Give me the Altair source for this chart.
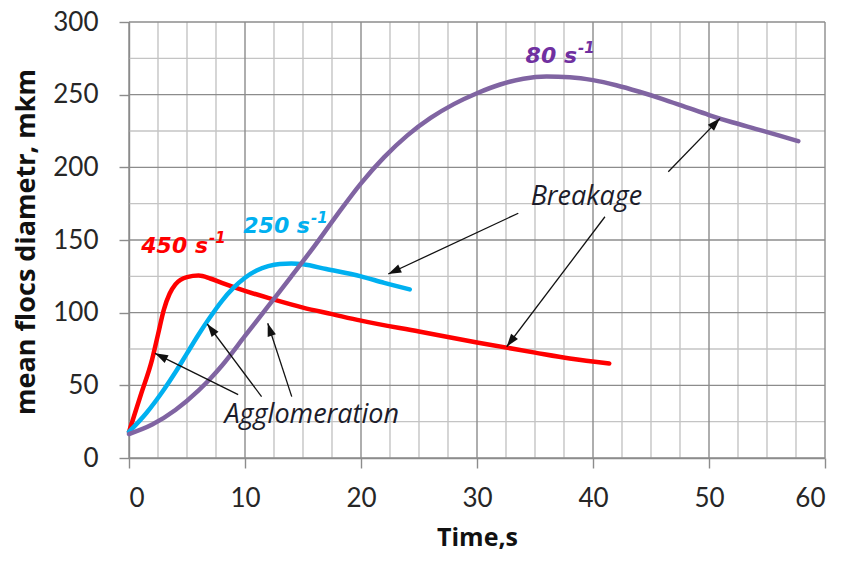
import math
import altair as alt
import pandas as pd

# ---------------- data ----------------
red_t = [0, 1, 2, 2.5, 3, 3.5, 4, 5, 6, 7, 8, 10, 12.5, 15, 17.5, 20, 25, 30, 35, 38, 41.4]
red_d = [18, 43, 68, 85, 102, 113, 119.5, 124.5, 125.5, 123.5, 120.5, 115, 109, 103.5, 99, 94.5, 87, 79.5, 72.5, 68.5, 65]

blue_t = [0, 1.5, 3, 4, 5, 6, 7, 8, 9, 10, 11, 12, 13, 14, 15, 17, 20, 22, 24.2]
blue_d = [18, 31, 47, 59, 72, 85, 97, 108, 117, 124, 129, 132, 133.5, 133.8, 133.3, 130, 125, 120.5, 116]

purple_t = [0, 2, 4, 6, 7, 8, 10, 12, 14, 16, 18, 20, 22, 24, 26, 28, 30, 32, 34, 36, 38, 40, 42, 44, 46, 48, 50, 52, 54, 56, 57.7]
purple_d = [16.5, 23, 33, 46.5, 54.5, 63.5, 84, 104.5, 125, 146, 168, 189, 207, 222, 234, 243.5, 251, 257, 261, 262.5, 262, 260, 256.5, 252, 247, 241.5, 236, 231, 226.5, 222, 218]

series_names = ["450", "250", "80"]
series_colors = ["#FF0000", "#00B0F0", "#8064A2"]

x_ticks = [0, 10, 20, 30, 40, 50, 60]
y_ticks = [0, 50, 100, 150, 200, 250, 300]
x_minor = [v * 2.5 for v in range(25) if (v * 2.5) % 10 != 0]
y_minor = [v * 25 for v in range(13) if (v * 25) % 50 != 0]

X_TITLE = "Time,s"
Y_TITLE = "mean flocs diametr, mkm"

# arrows: start (t, d) -> tip (t, d)
arr_t0 = [9.41, 11.43, 14.03, 33.56, 41.03, 46.49]
arr_d0 = [43.6, 42.2, 42.2, 168.4, 166.0, 197.0]
arr_t1 = [2.24, 6.75, 11.96, 22.35, 32.56, 50.95]
arr_d1 = [72.0, 92.2, 92.7, 126.6, 76.6, 233.7]

# series labels: main text (right aligned at anchor), superscript (left aligned)
lab_main = ["450 s", "250 s", "80 s"]
lab_sup = ["-1", "-1", "-1"]
lab_t = [6.81, 15.6, 38.62]
lab_d = [141.1, 154.8, 271.8]
lab_sup_d = [147.9, 161.7, 278.7]
lab_colors = ["#FF0000", "#00B0F0", "#7030A0"]

note_text = ["Breakage", "Agglomeration"]
note_t = [39.43, 15.75]
note_d = [174.1, 23.9]

# ---------------- chart ----------------
W, H = 696, 436
XMAX, YMAX = 60, 300
xs = alt.Scale(domain=[0, XMAX], nice=False, zero=False)
ys = alt.Scale(domain=[0, YMAX], nice=False)


def X(f):
    return alt.X(f, scale=xs, title=X_TITLE, axis=alt.Axis(values=x_ticks))


def Y(f):
    return alt.Y(f, scale=ys, title=Y_TITLE, axis=alt.Axis(values=y_ticks))


curves = pd.concat([
    pd.DataFrame({"t": red_t, "d": red_d, "s": "450"}),
    pd.DataFrame({"t": blue_t, "d": blue_d, "s": "250"}),
    pd.DataFrame({"t": purple_t, "d": purple_d, "s": "80"}),
])
curves["o"] = curves["s"].map({n: i for i, n in enumerate(series_names)})

grid_minor_x = alt.Chart(pd.DataFrame({"v": x_minor})).mark_rule(color="#c4c4c4", strokeWidth=1.4).encode(x=X("v:Q"))
grid_minor_y = alt.Chart(pd.DataFrame({"v": y_minor})).mark_rule(color="#c4c4c4", strokeWidth=1.4).encode(y=Y("v:Q"))
grid_major_x = alt.Chart(pd.DataFrame({"v": x_ticks})).mark_rule(color="#8c8c8c", strokeWidth=1.4).encode(x=X("v:Q"))
grid_major_y = alt.Chart(pd.DataFrame({"v": y_ticks})).mark_rule(color="#8c8c8c", strokeWidth=1.4).encode(y=Y("v:Q"))

lines = alt.Chart(curves).mark_line(strokeWidth=4.5, strokeCap="round", interpolate="monotone").encode(
    x=X("t:Q"),
    y=Y("d:Q"),
    color=alt.Color("s:N", scale=alt.Scale(domain=series_names, range=series_colors), legend=None),
    detail="s:N",
    order="o:Q",
)

# arrow geometry (angles computed from the data in pixel space)
ppx = W / XMAX
ppy = H / YMAX
angs = []
for a, b, c, d in zip(arr_t0, arr_d0, arr_t1, arr_d1):
    dx = (c - a) * ppx
    dy = -(d - b) * ppy
    angs.append(math.degrees(math.atan2(dx, -dy)) % 360)
arrows = pd.DataFrame({"t0": arr_t0, "d0": arr_d0, "t1": arr_t1, "d1": arr_d1, "ang": angs})

arrow_lines = alt.Chart(arrows).mark_rule(color="#111111", strokeWidth=1.3).encode(
    x=X("t0:Q"), y=Y("d0:Q"),
    x2=alt.X2("t1:Q", title=X_TITLE), y2=alt.Y2("d1:Q", title=Y_TITLE))
arrow_heads = alt.Chart(arrows).mark_point(
    shape="M0,0L0.33,1L-0.33,1Z", filled=True, color="#111111", opacity=1, size=676, strokeWidth=0
).encode(
    x=X("t1:Q"), y=Y("d1:Q"),
    angle=alt.Angle("ang:Q", scale=None))

labels = pd.DataFrame({"txt": lab_main, "sup": lab_sup, "t": lab_t, "d": lab_d,
                       "sd": lab_sup_d, "c": lab_colors})
lab_main_layer = alt.Chart(labels).mark_text(
    font="DejaVu Sans", fontStyle="italic", fontWeight="bold", fontSize=22,
    align="right", baseline="alphabetic").encode(
    x=X("t:Q"), y=Y("d:Q"),
    text="txt:N", color=alt.Color("c:N", scale=None))
lab_sup_layer = alt.Chart(labels).mark_text(
    font="DejaVu Sans", fontStyle="italic", fontWeight="bold", fontSize=15,
    align="left", baseline="alphabetic", dx=1).encode(
    x=X("t:Q"), y=Y("sd:Q"),
    text="sup:N", color=alt.Color("c:N", scale=None))

notes = pd.DataFrame({"txt": note_text, "t": note_t, "d": note_d})
notes_layer = alt.Chart(notes).mark_text(
    font="Open Sans", fontStyle="italic", fontSize=27, color="#1c1c2a",
    align="center", baseline="alphabetic").encode(
    x=X("t:Q"), y=Y("d:Q"), text="txt:N")

chart = alt.layer(
    grid_minor_x, grid_minor_y, grid_major_x, grid_major_y,
    lines, arrow_lines, arrow_heads, lab_main_layer, lab_sup_layer, notes_layer,
).properties(
    width=W, height=H,
    autosize=alt.AutoSizeParams(type="none"),
    padding={"left": 121, "top": 14, "right": 10, "bottom": 96},
    background="white",
).configure_view(
    stroke=None
).configure_axis(
    grid=False, domainColor="#8c8c8c", domainWidth=1.4, tickColor="#8c8c8c", tickWidth=1.4,
    tickSize=10, labelFont="Lato", labelFontSize=26, labelColor="#262626",
    titleFont="Open Sans", titleFontWeight="bold", titleColor="#111111",
).configure_axisX(
    labelPadding=17, titleFontSize=25, titleX=W / 2, titleY=87, titleAlign="center",
    titleBaseline="alphabetic",
).configure_axisY(
    labelPadding=21, titleFontSize=27, titleX=-95, titleY=219.5, titleAngle=270,
    titleAlign="center", titleBaseline="alphabetic",
)

chart.save("out.html", embed_options={"renderer": "svg", "actions": False})
